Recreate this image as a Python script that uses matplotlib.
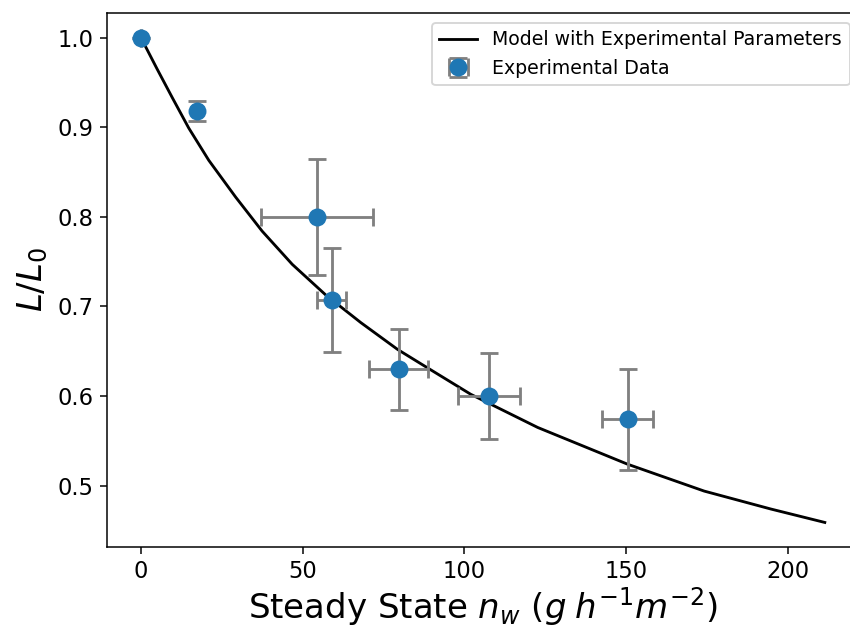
import matplotlib
matplotlib.use("Agg")
import matplotlib.pyplot as plt
import numpy as np

# Experimental data
exp_x = [0.0, 17.2, 54.4, 59.0, 79.7, 107.7, 150.5]
exp_y = [1.0, 0.918, 0.800, 0.707, 0.630, 0.600, 0.574]
exp_xerr = [0.0, 0.0, 17.4, 4.5, 9.2, 9.6, 7.8]
exp_yerr = [0.0, 0.0107, 0.065, 0.058, 0.045, 0.048, 0.056]

# Model curve
model_x = [0, 5, 9.7, 14.8, 21.0, 29.3, 37.5, 46.8, 57.1, 68.0, 79.4,
           86.6, 102.0, 122.7, 150.5, 174.2, 194.8, 211.5]
model_y = [1.0, 0.965, 0.933, 0.899, 0.863, 0.822, 0.784, 0.747, 0.713,
           0.682, 0.652, 0.636, 0.602, 0.565, 0.524, 0.494, 0.474, 0.459]

fig = plt.figure(figsize=(850 / 136, 630 / 136), dpi=136)
ax = fig.add_axes([106.7 / 850, 1 - 546.7 / 630, (859 - 106.7) / 850, (546.7 - 13.3) / 630])

ax.plot(model_x, model_y, color="black", linewidth=1.5,
        label="Model with Experimental Parameters")
ax.errorbar(exp_x, exp_y, xerr=exp_xerr, yerr=exp_yerr, fmt="o",
            color="#1f77b4", markersize=8.5, ecolor="gray",
            elinewidth=1.5, capsize=5, capthick=1.5,
            label="Experimental Data")

ax.set_xlabel(r"Steady State $n_w$ ($g\;h^{-1}m^{-2}$)", fontsize=18, labelpad=1)
ax.set_ylabel(r"$L/L_0$", fontsize=18)
ax.tick_params(axis="both", labelsize=12)
ax.set_xticks([0, 50, 100, 150, 200])
ax.set_yticks([0.5, 0.6, 0.7, 0.8, 0.9, 1.0])
ax.legend(loc="upper right", fontsize=10)

fig.savefig("out.png", dpi=136)
